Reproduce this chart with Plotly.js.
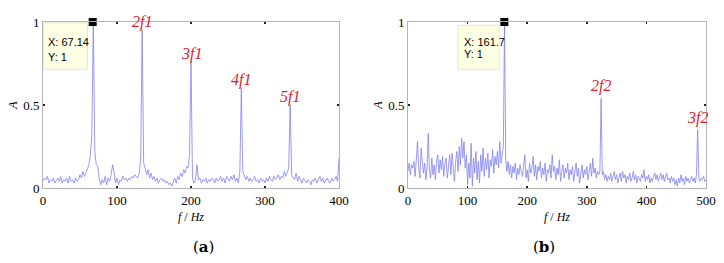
<!DOCTYPE html>
<html><head><meta charset="utf-8">
<script src="https://cdn.plot.ly/plotly-3.0.1.min.js"></script>
<style>html,body{margin:0;padding:0;background:#fff;}#c{width:724px;height:263px;}</style>
</head><body><div id="c"></div>
<script>
// Spectrum (a): f = 0..400 Hz, step 2 Hz
const stepA = 2;
const ampA = [
.04,.06,.05,.07,.03,.05,.04,.06,.03,.05,
.06,.04,.07,.03,.05,.04,.06,.03,.07,.04,
.05,.03,.06,.04,.05,.08,.06,.10,.07,.09,
.12,.14,.20,.32,1.0,.22,.14,.13,.06,.02,
.05,.03,.07,.02,.06,.04,.08,.14,.10,.03,
.06,.02,.05,.04,.07,.05,.06,.04,.06,.05,
.07,.06,.08,.07,.06,.09,.18,.95,.15,.12,
.08,.11,.06,.09,.05,.07,.04,.06,.03,.05,
.06,.04,.05,.03,.04,.02,.03,.01,.04,.06,
.03,.07,.05,.09,.07,.11,.09,.13,.12,.20,
.76,.06,.03,.05,.14,.05,.06,.03,.05,.04,
.06,.03,.05,.04,.06,.05,.03,.06,.04,.05,
.07,.04,.06,.03,.07,.05,.04,.07,.05,.08,
.04,.06,.03,.10,.60,.10,.08,.05,.07,.04,
.06,.04,.05,.07,.04,.05,.03,.06,.04,.05,
.03,.06,.04,.07,.05,.04,.07,.05,.06,.08,
.05,.07,.06,.10,.07,.09,.12,.50,.08,.06,
.05,.09,.04,.07,.05,.03,.06,.04,.03,.05,
.04,.02,.05,.04,.06,.03,.05,.07,.04,.06,
.03,.05,.06,.04,.03,.06,.04,.05,.07,.04,
.18];
// Spectrum (b): f = 0..500 Hz, step 2 Hz
const stepB = 2;
const ampB = [
.10,.15,.08,.14,.12,.16,.07,.22,.28,.12,
.06,.24,.18,.09,.15,.05,.12,.33,.10,.06,
.18,.08,.14,.05,.16,.20,.09,.17,.11,.19,
.07,.15,.18,.06,.13,.20,.08,.21,.12,.04,
.16,.22,.10,.25,.14,.30,.18,.28,.12,.20,
.02,.15,.06,.27,.01,.18,.09,.22,.05,.16,
.03,.20,.10,.24,.07,.18,.11,.21,.06,.17,
.13,.23,.09,.19,.14,.22,.12,.28,.15,.20,
.25,1.0,.17,.10,.16,.08,.14,.06,.13,.09,
.15,.05,.12,.08,.14,.10,.07,.13,.20,.06,
.11,.04,.15,.09,.12,.19,.07,.14,.05,.13,
.10,.16,.06,.12,.08,.15,.04,.11,.09,.14,
.06,.20,.10,.13,.05,.12,.08,.17,.04,.10,
.14,.06,.12,.09,.15,.05,.11,.08,.13,.04,
.10,.15,.07,.12,.03,.09,.14,.06,.11,.08,
.13,.05,.10,.15,.07,.18,.09,.12,.06,.10,
.08,.10,.54,.08,.10,.05,.08,.04,.07,.05,
.09,.04,.07,.10,.05,.08,.03,.06,.09,.04,
.10,.06,.08,.03,.07,.05,.09,.04,.06,.10,
.05,.08,.03,.07,.05,.04,.08,.06,.11,.04,
.07,.05,.08,.03,.06,.04,.07,.09,.05,.08,
.04,.06,.09,.05,.08,.04,.07,.09,.05,.06,
.03,.07,.04,.06,.02,.05,.01,.06,.03,.08,
.04,.06,.02,.07,.04,.06,.03,.05,.07,.04,
.06,.03,.08,.35,.06,.04,.06,.05,.07,.04,
.05];
const tipA = {x: 67.14, y: 1};
const tipB = {x: 161.7, y: 1};
const harmA = [{f: 134, a: 0.95, t: '2f1'}, {f: 200, a: 0.76, t: '3f1'}, {f: 268, a: 0.60, t: '4f1'}, {f: 334, a: 0.50, t: '5f1'}];
const harmB = [{f: 324, a: 0.54, t: '2f2'}, {f: 486, a: 0.35, t: '3f2'}];
const ticksA = [0, 100, 200, 300, 400];
const ticksB = [0, 100, 200, 300, 400, 500];
const ticksY = [0, 0.5, 1];

const fA = ampA.map((_, i) => i * stepA);
const fB = ampB.map((_, i) => i * stepB);
const lineCol = '#8282f2';
const serif = 'Liberation Serif, serif';

const traces = [
  {x: fA, y: ampA, xaxis: 'x', yaxis: 'y', type: 'scatter', mode: 'lines', line: {color: lineCol, width: 0.8}, hoverinfo: 'skip'},
  {x: fB, y: ampB, xaxis: 'x2', yaxis: 'y2', type: 'scatter', mode: 'lines', line: {color: lineCol, width: 0.8}, hoverinfo: 'skip'},
  {x: [tipA.x], y: [tipA.y], xaxis: 'x', yaxis: 'y', type: 'scatter', mode: 'markers', marker: {symbol: 'square', size: 8, color: '#000'}, cliponaxis: false},
  {x: [tipB.x], y: [tipB.y], xaxis: 'x2', yaxis: 'y2', type: 'scatter', mode: 'markers', marker: {symbol: 'square', size: 8, color: '#000'}, cliponaxis: false}
];

function xax(domain, ticks, anchor) {
  return {domain: domain, range: [0, ticks[ticks.length - 1]], tickvals: ticks, ticktext: ticks.map(String),
    anchor: anchor, showline: true, linecolor: '#b4b4b4', linewidth: 1, mirror: 'ticks',
    ticks: 'inside', ticklen: 2, tickwidth: 1.5, tickcolor: '#222', showgrid: false, zeroline: false,
    tickfont: {family: serif, size: 13, color: '#000'},
    title: {text: '<i>f</i> / <i>Hz</i>', font: {family: serif, size: 12, color: '#000'}, standoff: 6}};
}
function yax(anchor) {
  return {domain: [0, 1], range: [0, 1], tickvals: ticksY, ticktext: ticksY.map(String), anchor: anchor,
    showline: true, linecolor: '#b4b4b4', linewidth: 1, mirror: 'ticks',
    ticks: 'inside', ticklen: 2, tickwidth: 1.5, tickcolor: '#222', showgrid: false, zeroline: false,
    tickfont: {family: serif, size: 13, color: '#000'},
    title: {text: '<i>A</i>', font: {family: serif, size: 12, color: '#000'}, standoff: 2}};
}

const ann = [];
harmA.forEach(h => ann.push({xref: 'x', yref: 'y', x: h.f, y: h.a, text: '<i>' + h.t + '</i>', showarrow: false,
  yanchor: 'bottom', yshift: -3, font: {family: serif, size: 16, color: '#e0202c'}}));
harmB.forEach(h => ann.push({xref: 'x2', yref: 'y2', x: h.f, y: h.a, text: '<i>' + h.t + '</i>', showarrow: false,
  yanchor: 'bottom', yshift: 1, font: {family: serif, size: 16, color: '#e0202c'}}));
const tipFont = {family: 'Liberation Sans, Arial, sans-serif', size: 11, color: '#000'};
ann.push({xref: 'x', yref: 'y', x: 4, y: 0.88, text: 'X: ' + tipA.x, showarrow: false, xanchor: 'left', font: tipFont});
ann.push({xref: 'x', yref: 'y', x: 4, y: 0.79, text: 'Y: ' + tipA.y, showarrow: false, xanchor: 'left', font: tipFont});
ann.push({xref: 'x2', yref: 'y2', x: 90, y: 0.88, text: 'X: ' + tipB.x, showarrow: false, xanchor: 'left', font: tipFont});
ann.push({xref: 'x2', yref: 'y2', x: 90, y: 0.81, text: 'Y: ' + tipB.y, showarrow: false, xanchor: 'left', font: tipFont});
ann.push({xref: 'paper', yref: 'paper', x: 0.2233, y: -0.29, yanchor: 'top', text: '(<b>a</b>)', showarrow: false,
  font: {family: 'DejaVu Serif, serif', size: 15, color: '#000'}});
ann.push({xref: 'paper', yref: 'paper', x: 0.7752, y: -0.29, yanchor: 'top', text: '(<b>b</b>)', showarrow: false,
  font: {family: 'DejaVu Serif, serif', size: 15, color: '#000'}});

const shapes = [
  {type: 'rect', xref: 'x', yref: 'y', x0: 0.5, x1: 60, y0: 0.715, y1: 0.995, fillcolor: '#ffffe4', line: {color: '#e6e6cc', width: 1}, layer: 'below'},
  {type: 'rect', xref: 'x2', yref: 'y2', x0: 84, x1: 153, y0: 0.715, y1: 0.98, fillcolor: '#ffffe4', line: {color: '#e6e6cc', width: 1}, layer: 'below'}
];

const layout = {
  width: 724, height: 263, margin: {l: 43, r: 18, t: 22, b: 75},
  paper_bgcolor: '#fff', plot_bgcolor: '#fff', showlegend: false,
  xaxis: xax([0, 0.4465], ticksA, 'y'),
  yaxis: yax('x'),
  xaxis2: xax([0.5505, 1], ticksB, 'y2'),
  yaxis2: yax('x2'),
  annotations: ann, shapes: shapes
};
Plotly.newPlot('c', traces, layout, {staticPlot: true, displayModeBar: false});
</script></body></html>
